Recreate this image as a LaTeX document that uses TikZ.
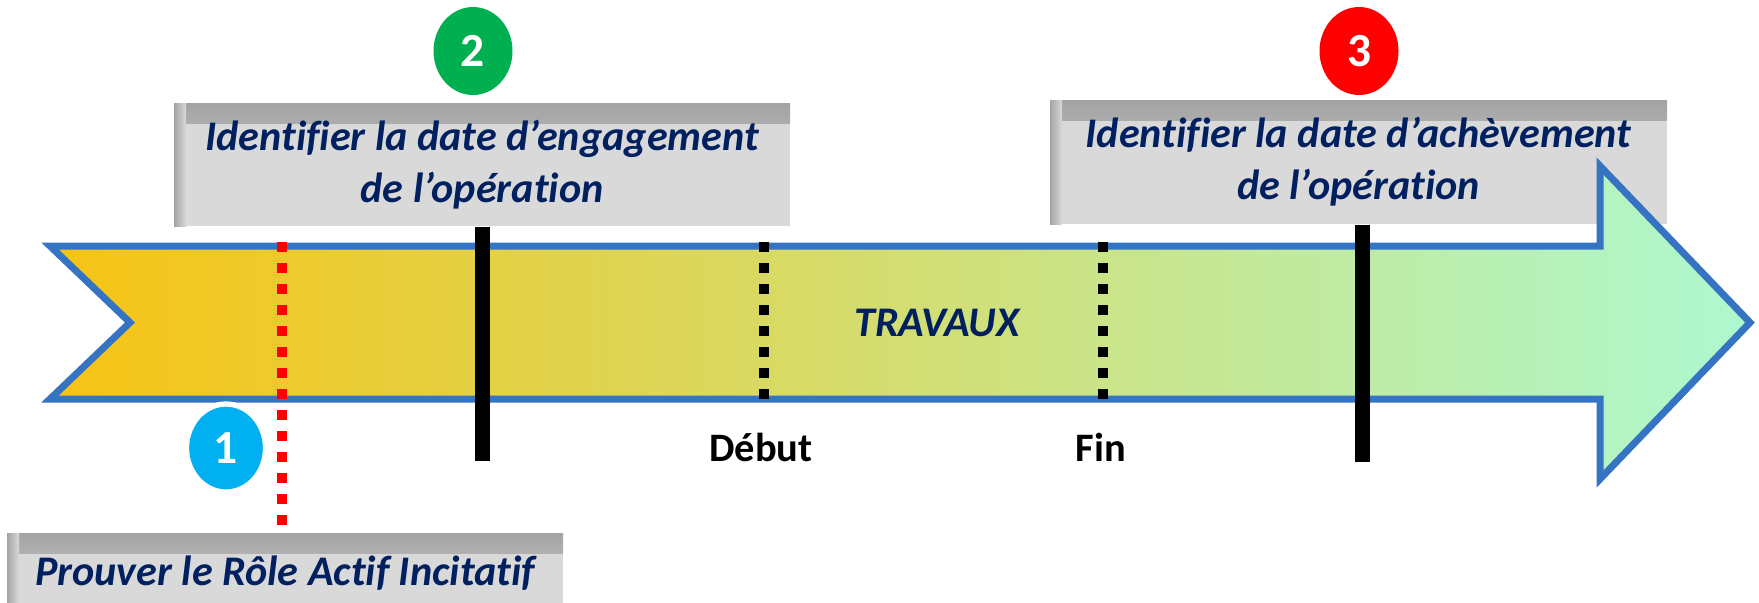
\documentclass[tikz,border=0pt]{standalone}
\usepackage{fontspec}
\setmainfont[RawFeature={-liga;-calt}]{Carlito}
\usepackage{tikz}
\usetikzlibrary{shapes.geometric, calc}

\definecolor{navy}{HTML}{002060}
\definecolor{boxgray}{HTML}{D9D9D9}
\definecolor{edgeblue}{HTML}{3573C3}
\definecolor{arrowL}{HTML}{F7C313}
\definecolor{arrowM}{HTML}{DEDA55}
\definecolor{arrowR}{HTML}{AEF8D0}
\definecolor{numG}{HTML}{00B050}
\definecolor{numR}{HTML}{FF0000}
\definecolor{numB}{HTML}{00B0F0}

\tikzset{
  note/.style  = {rectangle, fill=boxgray, inner sep=0pt, align=center, text=navy,
                  font=\fontsize{12}{14.8}\selectfont\bfseries\itshape,
                  path picture={
                    \shade[top color=black!36, bottom color=boxgray]
                      (path picture bounding box.north west) rectangle
                      ([yshift=-0.2cm]path picture bounding box.north east);
                    \shade[left color=black!36, right color=boxgray]
                      (path picture bounding box.north west) rectangle
                      ([xshift=0.12cm]path picture bounding box.south west);}},
  num/.style   = {ellipse, minimum width=0.79cm, minimum height=0.88cm, inner sep=0pt,
                  text=white, font=\fontsize{13.5}{14}\selectfont\bfseries},
  tick/.style  = {line width=0.15cm},
  dots/.style  = {line width=0.1cm, dash pattern=on 0.1cm off 0.11cm},
  stamp/.style = {font=\fontsize{11.5}{12}\selectfont\bfseries},
}

\begin{document}
\begin{tikzpicture}

    \clip (0,0) rectangle (17.59,-6.02);

    %% Note boxes
    \node[note, minimum width=6.17cm, minimum height=1.24cm] (acheve) at (13.585,-1.62)
         {Identifier la date d’achèvement\\de l’opération};
    \node[note, minimum width=6.16cm, minimum height=1.23cm] (engage) at (4.82,-1.645)
         {Identifier la date d’engagement\\de l’opération};
    \node[note, minimum width=5.56cm, minimum height=0.80cm] (role) at (2.85,-5.73)
         {Prouver le Rôle Actif Incitatif};

    %% Timeline arrow
    \shadedraw[left color=arrowL, middle color=arrowM, right color=arrowR,
               draw=edgeblue, line width=0.07cm, line join=miter]
      (0.50,-2.46) -- (16.00,-2.46) -- (16.00,-1.66) -- (17.50,-3.225)
      -- (16.00,-4.79) -- (16.00,-3.99) -- (0.50,-3.99) -- (1.30,-3.225) -- cycle;

    \node[text=navy, font=\fontsize{12}{14}\selectfont\bfseries\itshape] (travaux) at (9.37,-3.23) {TRAVAUX};

    %% Start / end of works
    \node[stamp] (debut) at (7.61,-4.47) {Début};
    \node[stamp] (fin)   at (11.01,-4.47) {Fin};
    \coordinate (d1) at (7.64,-2.42);
    \coordinate (f1) at (11.03,-2.42);
    \draw[dots] (d1) -- (d1 |- 0,-4.00);
    \draw[dots] (f1) -- (f1 |- 0,-4.00);

    %% Solid markers below the boxes
    \coordinate (t2) at (4.82,-4.61);
    \coordinate (t3) at (13.62,-4.62);
    \draw[tick] (engage.south -| t2) -- (t2);
    \draw[tick] (acheve.south -| t3) -- (t3);

    %% Incentive check
    \coordinate (r1) at (2.82,-2.42);
    \draw[dots, numR] (r1) -- (r1 |- role.north);

    %% Step numbers
    \node[num, fill=numB, draw=white, line width=1.5pt] (n1) at (2.26,-4.48) {1};
    \node[num, fill=numG] (n2) at (4.73,-0.51) {2};
    \node[num, fill=numR] (n3) at (13.59,-0.51) {3};

\end{tikzpicture}
\end{document}
